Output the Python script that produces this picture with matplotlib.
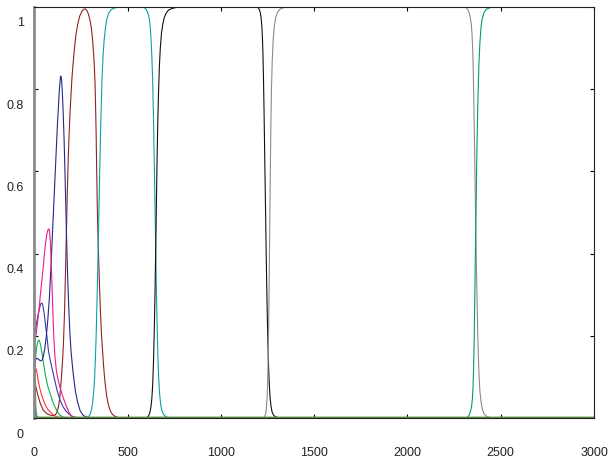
import matplotlib
matplotlib.use("Agg")
import matplotlib.pyplot as plt
from matplotlib.transforms import ScaledTranslation

plt.rcParams['font.family'] = ['Liberation Sans', 'DejaVu Sans']

# ---- population fractions over time, one species per curve ----
olive_t = [0, 1.5, 3, 5, 8, 3000]
olive_v = [0.092, 0.06, 0.025, 0.005, 0, 0]

cyan_t = [0, 3, 6, 10, 15, 25]
cyan_v = [0.06, 0.045, 0.028, 0.012, 0.004, 0]

maroon_t = [0, 4, 8, 14, 21, 32, 48, 65, 84, 100, 110, 118, 125, 131, 136, 141,
            146, 151, 156, 161, 166, 171, 176, 181, 186, 191, 196, 201, 207, 214,
            222, 232, 243, 255, 266, 275, 283, 290, 298, 305, 311, 316, 321, 325,
            328, 331, 334, 337, 341, 345, 349, 354, 360, 366, 372, 379, 387, 396,
            406, 418, 432, 450, 470]
maroon_v = [0.095, 0.088, 0.076, 0.064, 0.052, 0.035, 0.019, 0.011, 0.007, 0.006,
            0.007, 0.011, 0.02, 0.033, 0.05, 0.075, 0.105, 0.14, 0.185, 0.25,
            0.34, 0.44, 0.54, 0.625, 0.69, 0.742, 0.785, 0.825, 0.86, 0.895, 0.93,
            0.958, 0.978, 0.99, 0.995, 0.995, 0.99, 0.982, 0.968, 0.95, 0.925,
            0.895, 0.86, 0.815, 0.76, 0.69, 0.6, 0.52, 0.44, 0.38, 0.32, 0.26,
            0.2, 0.16, 0.12, 0.085, 0.055, 0.033, 0.018, 0.009, 0.004, 0.001, 0]

red_t = [0, 4, 9, 14, 21, 30, 40, 48, 60, 72, 84, 100, 119, 140, 170]
red_v = [0.10, 0.115, 0.12, 0.11, 0.09, 0.07, 0.054, 0.044, 0.03, 0.021, 0.015,
         0.008, 0.003, 0.001, 0]

green_t = [0, 3, 7, 12, 18, 25, 32, 40, 50, 57, 70, 84, 98, 110, 125, 137, 155, 180]
green_v = [0.085, 0.12, 0.15, 0.172, 0.186, 0.19, 0.18, 0.16, 0.13, 0.109, 0.08,
           0.06, 0.04, 0.027, 0.014, 0.007, 0.002, 0]

navy_t = [0, 3, 6, 10, 16, 24, 32, 40, 48, 56, 64, 72, 80, 88, 96, 104, 112, 118,
          124, 128, 132, 136, 139, 141, 143, 146, 149, 152, 155, 159, 163, 167,
          171, 175, 180, 185, 190, 196, 203, 210, 220, 232, 245, 260, 275, 300]
navy_v = [0.113, 0.13, 0.14, 0.145, 0.145, 0.142, 0.139, 0.14, 0.15, 0.17, 0.2,
          0.24, 0.29, 0.36, 0.44, 0.52, 0.6, 0.66, 0.72, 0.75, 0.785, 0.81, 0.826,
          0.832, 0.83, 0.82, 0.8, 0.77, 0.735, 0.68, 0.615, 0.54, 0.465, 0.395,
          0.32, 0.26, 0.21, 0.165, 0.13, 0.1, 0.065, 0.038, 0.018, 0.007, 0.003, 0]

blue_t = [0, 6, 12, 20, 28, 35, 40, 45, 52, 60, 68, 75, 85, 95, 105, 120, 137,
          155, 173, 190, 208, 240]
blue_v = [0.2, 0.215, 0.232, 0.252, 0.268, 0.278, 0.28, 0.275, 0.255, 0.225,
          0.195, 0.165, 0.14, 0.12, 0.1, 0.07, 0.044, 0.026, 0.015, 0.008, 0.003, 0]

pink_t = [0, 8, 16, 24, 32, 40, 48, 56, 64, 69, 74, 78, 81, 84, 87, 90, 93, 96,
          99, 102, 105, 108, 112, 118, 125, 137, 150, 162, 173, 186, 200, 225]
pink_v = [0.18, 0.2, 0.23, 0.26, 0.3, 0.335, 0.37, 0.41, 0.44, 0.452, 0.459,
          0.46, 0.455, 0.44, 0.415, 0.38, 0.34, 0.3, 0.26, 0.22, 0.19, 0.163,
          0.14, 0.115, 0.097, 0.075, 0.055, 0.04, 0.027, 0.013, 0.004, 0]

teal_t = [0, 270, 290, 300, 307, 313, 318, 323, 327, 331, 335, 339, 343, 347, 351,
          355, 359, 363, 368, 374, 381, 389, 398, 410, 425, 445, 470, 575, 590,
          600, 607, 613, 618, 622, 626, 630, 634, 638, 642, 646, 650, 654, 658,
          662, 666, 671, 677, 684, 693, 705, 720, 740, 3000]
teal_v = [0, 0, 0.003, 0.01, 0.022, 0.04, 0.065, 0.1, 0.145, 0.2, 0.27, 0.35,
          0.44, 0.53, 0.62, 0.7, 0.77, 0.83, 0.88, 0.92, 0.95, 0.972, 0.985,
          0.993, 0.997, 0.999, 1.0, 1.0, 0.998, 0.994, 0.987, 0.978, 0.965,
          0.945, 0.915, 0.875, 0.82, 0.74, 0.64, 0.53, 0.42, 0.31, 0.22, 0.15,
          0.1, 0.06, 0.033, 0.017, 0.008, 0.003, 0.001, 0, 0]

black_t = [0, 598, 606, 614, 620, 625, 630, 634, 638, 642, 646, 650, 654, 658,
           662, 666, 670, 675, 681, 688, 696, 706, 718, 735, 760, 800, 1190, 1200,
           1206, 1211, 1215, 1219, 1222, 1225, 1228, 1231, 1234, 1237, 1240, 1243,
           1246, 1249, 1252, 1255, 1259, 1263, 1268, 1274, 1282, 1292, 1305, 1320,
           3000]
black_v = [0, 0, 0.002, 0.007, 0.015, 0.028, 0.05, 0.08, 0.13, 0.2, 0.29, 0.4,
           0.52, 0.64, 0.73, 0.8, 0.855, 0.9, 0.935, 0.958, 0.974, 0.985, 0.992,
           0.996, 0.999, 1.0, 1.0, 0.998, 0.994, 0.986, 0.975, 0.955, 0.93, 0.89,
           0.83, 0.75, 0.66, 0.57, 0.48, 0.39, 0.31, 0.24, 0.18, 0.13, 0.085,
           0.052, 0.03, 0.015, 0.007, 0.003, 0.001, 0, 0]

gray_t = [0, 1225, 1232, 1238, 1243, 1247, 1250, 1253, 1256, 1259, 1262, 1265,
          1268, 1271, 1275, 1280, 1286, 1294, 1304, 1318, 1340, 1370, 2300, 2315,
          2324, 2331, 2337, 2342, 2346, 2349, 2352, 2355, 2358, 2361, 2364, 2367,
          2370, 2373, 2376, 2379, 2383, 2388, 2394, 2401, 2410, 2421, 2435, 2455,
          3000]
gray_v = [0, 0, 0.002, 0.008, 0.02, 0.045, 0.08, 0.14, 0.23, 0.35, 0.48, 0.61,
          0.72, 0.8, 0.87, 0.92, 0.953, 0.975, 0.988, 0.995, 0.999, 1.0, 1.0,
          0.998, 0.993, 0.985, 0.974, 0.958, 0.935, 0.905, 0.86, 0.79, 0.71, 0.62,
          0.53, 0.44, 0.36, 0.285, 0.22, 0.165, 0.11, 0.068, 0.04, 0.022, 0.011,
          0.005, 0.002, 0, 0]

jade_t = [0, 2310, 2322, 2332, 2339, 2344, 2348, 2352, 2355, 2358, 2361, 2364,
          2367, 2370, 2373, 2376, 2379, 2383, 2388, 2394, 2401, 2410, 2422, 2440,
          2470, 3000]
jade_v = [0, 0, 0.002, 0.008, 0.018, 0.03, 0.046, 0.08, 0.13, 0.2, 0.3, 0.4,
          0.49, 0.58, 0.67, 0.74, 0.8, 0.86, 0.91, 0.95, 0.972, 0.986, 0.994,
          0.998, 1.0, 1.0]

x_ticks = [0, 500, 1000, 1500, 2000, 2500, 3000]
y_ticks = [0, 0.2, 0.4, 0.6, 0.8, 1.0]
y_tick_labels = ['0', '0.2', '0.4', '0.6', '0.8', '1']

series = [
    (cyan_t, cyan_v, '#10b4c4'),
    (maroon_t, maroon_v, '#8e2424'),
    (red_t, red_v, '#ff3333'),
    (green_t, green_v, '#10b050'),
    (blue_t, blue_v, '#3a3aa6'),
    (navy_t, navy_v, '#26268e'),
    (pink_t, pink_v, '#ee1a8c'),
    (teal_t, teal_v, '#0aa2a6'),
    (black_t, black_v, '#111111'),
    (gray_t, gray_v, '#8c8c8c'),
    (jade_t, jade_v, '#00a060'),
]

fig = plt.figure(figsize=(6.1, 4.65), dpi=100)
ax = fig.add_axes([34.4 / 610, 47 / 465, (594 - 34.4) / 610, (418 - 7) / 465])

for t, v, c in series:
    ax.plot(t, v, color=c, lw=0.8, solid_joinstyle='round')
ax.plot(olive_t, olive_v, color='#5b8a3e', lw=2.0, solid_capstyle='butt')

ax.set_xlim(0, 3000)
ax.set_ylim(0, 1.0)
ax.set_xticks(x_ticks)
ax.set_yticks(y_ticks)
ax.set_yticklabels(y_tick_labels)

ax.tick_params(axis='both', direction='in', length=3, width=0.8,
               top=True, right=True, labelsize=9, labelcolor='#222222')
ax.tick_params(axis='x', pad=21)
ax.tick_params(axis='y', pad=7.5)

for sp in ('top', 'right', 'bottom'):
    ax.spines[sp].set_color('#222222')
    ax.spines[sp].set_linewidth(0.8)
ax.spines['left'].set_color('#8a8a8a')
ax.spines['left'].set_linewidth(2.0)

shift = ScaledTranslation(0, -0.15, fig.dpi_scale_trans)
for lab in ax.get_yticklabels():
    lab.set_transform(lab.get_transform() + shift)

fig.savefig('out.png', dpi=100)
